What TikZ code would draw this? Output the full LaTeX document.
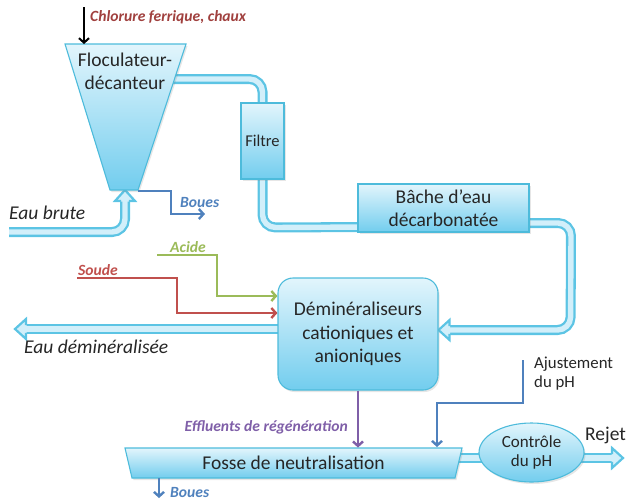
\documentclass[tikz,border=0pt]{standalone}
\usepackage{fontspec}
\setmainfont{Carlito}
\usetikzlibrary{arrows.meta,shapes.geometric,shadows,calc}
\pgfdeclarelayer{background}
\pgfsetlayers{background,main}
\definecolor{boxedge}{HTML}{4DBBDB}
\definecolor{boxtop}{HTML}{E2F5FC}
\definecolor{boxbot}{HTML}{72CDEE}
\definecolor{pipeedge}{HTML}{5CC4E4}
\definecolor{pipefill}{HTML}{D2EFFA}
\definecolor{txt}{HTML}{262626}
\definecolor{chlor}{HTML}{A0403E}
\definecolor{bouesc}{HTML}{4F81BD}
\definecolor{acidec}{HTML}{9BBB59}
\definecolor{soudec}{HTML}{C0504D}
\definecolor{effc}{HTML}{7F5FA8}
\newcommand\drawpipe[1]{\draw[pipeo] #1; \draw[pipei] #1;}
\tikzset{
 pipeo/.style={line width=10pt, draw=pipeedge, rounded corners=13pt},
 pipei/.style={line width=5.4pt, draw=pipefill, rounded corners=13pt},
 pics/pipehead/.style={code={
   \fill[pipefill] (-0.5,-10) -- (11,0) -- (-0.5,10) -- cycle;
   \draw[pipeedge, line width=2.2pt, line join=miter] (0,3.8) -- (0,10) -- (11,0) -- (0,-10) -- (0,-3.8);
 }},
 lbl/.style={font=\fontsize{19.5}{23.5}\selectfont, text=txt, align=center, inner sep=0pt},
 box/.style={draw=boxedge, line width=1.1pt, top color=boxtop, bottom color=boxbot, lbl,
   drop shadow={opacity=0.2, shadow xshift=1.5pt, shadow yshift=-2pt}},
 clab/.style={font=\fontsize{15.6}{18}\selectfont\bfseries\itshape, inner sep=0pt},
 feed/.style={line width=2.4pt, -{Straight Barb[length=4.5pt,width=10pt]}},
}
\begin{document}
\begin{tikzpicture}[x=1pt,y=-1pt]
\useasboundingbox (0,0) rectangle (626,501);
% units
\path[box] (65,44) -- (186,44) -- (138,190) -- (110,190) -- cycle;
\node[lbl] (floc) at (125,71.5) {Floculateur-\\décanteur};
\node[box, minimum width=43pt, minimum height=76pt, font=\fontsize{16.5}{20}\selectfont] (filtre) at (262.5,141) {Filtre};
\node[box, minimum width=171pt, minimum height=48pt] (bache) at (443.5,208) {Bâche d’eau\\décarbonatée};
\node[box, rounded corners=15pt, minimum width=160pt, minimum height=112pt] (demin) at (358,334) {Déminéraliseurs\\cationiques et\\anioniques};
\path[box] (125,448) -- (462,448) -- (455,478) -- (132,478) -- cycle;
\node[lbl] (fosse) at (293.5,463) {Fosse de neutralisation};
\node[box, ellipse, minimum width=105pt, minimum height=59pt, font=\fontsize{17}{19.5}\selectfont] (ctrl) at (531.5,452.5) {Contrôle\\du pH};
% coordinates
\coordinate (flocT) at (84,44);
\coordinate (flocIn) at (160,79);
\coordinate (flocB) at (125,190);
\coordinate (flocBR) at (138,191);
\coordinate (brute) at (9,232);
\coordinate (demEau) at (15,329);
\coordinate (rejet) at (623,458);
\coordinate (fosseIn) at (445,458);
\coordinate (fosseT) at (437,447);
\coordinate (fosseL) at (159,478);
% pipes
\begin{pgfonlayer}{background}
\drawpipe{(flocIn) -- (filtre.north |- flocIn) -- (filtre.north)}
\drawpipe{(filtre.south) -- ($(filtre.south)+(0,48)$) -- ($(bache.west)+(10,19)$)}
\drawpipe{($(bache.east)+(-10,15)$) -- ($(bache.east)+(41.5,15)$) -- ($(demin.east)+(132,-4)$) -- ($(demin.east)+(11,-4)$)}
\pic[rotate=180] at ($(demin.east)+(11,-4)$) {pipehead};
\drawpipe{(brute) -- (brute -| flocB) -- ($(flocB)+(0,11)$)}
\pic[rotate=90] at ($(flocB)+(0,11)$) {pipehead};
\drawpipe{($(demin.west)+(10,-5)$) -- ($(demEau)+(11,0)$)}
\pic[rotate=180] at ($(demEau)+(11,0)$) {pipehead};
\drawpipe{(fosseIn) -- ($(rejet)+(-11,0)$)}
\pic at ($(rejet)+(-11,0)$) {pipehead};
\end{pgfonlayer}
% feed lines
\draw[feed, black, line width=2pt] (84,7) -- (flocT);
\draw[feed, bouesc] (flocBR) -- (171,191) -- (171,214) -- (205,214);
\draw[feed, acidec] (157,255) -- (217,255) -- (217,296) -- ($(demin.west)+(0,-38)$);
\draw[feed, soudec] (77,278) -- (177,278) -- (177,313) -- ($(demin.west)+(0,-21)$);
\draw[feed, effc] (demin.south) -- ($(demin.south)+(0,57)$);
\draw[feed, bouesc] (523,360) -- (523,403) -- (437,403) -- (fosseT);
\draw[feed, bouesc] (fosseL) -- (159,498);
% labels
\node[clab, text=chlor, anchor=west] (lchl) at (90,17) {Chlorure ferrique, chaux};
\node[clab, text=bouesc, anchor=west] (lb1) at (180,202) {Boues};
\node[lbl, font=\fontsize{19.5}{23.5}\selectfont\itshape, anchor=west] (lbrute) at (9,213) {Eau brute};
\node[clab, text=acidec] (lac) at (188,247) {Acide};
\node[clab, text=soudec] (lso) at (98,270) {Soude};
\node[lbl, font=\fontsize{19.5}{23.5}\selectfont\itshape, anchor=west] (ldem) at (24,347) {Eau déminéralisée};
\node[clab, text=effc, anchor=east] (leff) at (348,427) {Effluents de régénération};
\node[lbl, font=\fontsize{16.8}{19}\selectfont, align=left, anchor=west] (laj) at (534,373.5) {Ajustement\\du pH};
\node[lbl, anchor=west] (lrej) at (585,435) {Rejet};
\node[clab, text=bouesc, anchor=west] (lb2) at (170,492) {Boues};
\end{tikzpicture}
\end{document}
